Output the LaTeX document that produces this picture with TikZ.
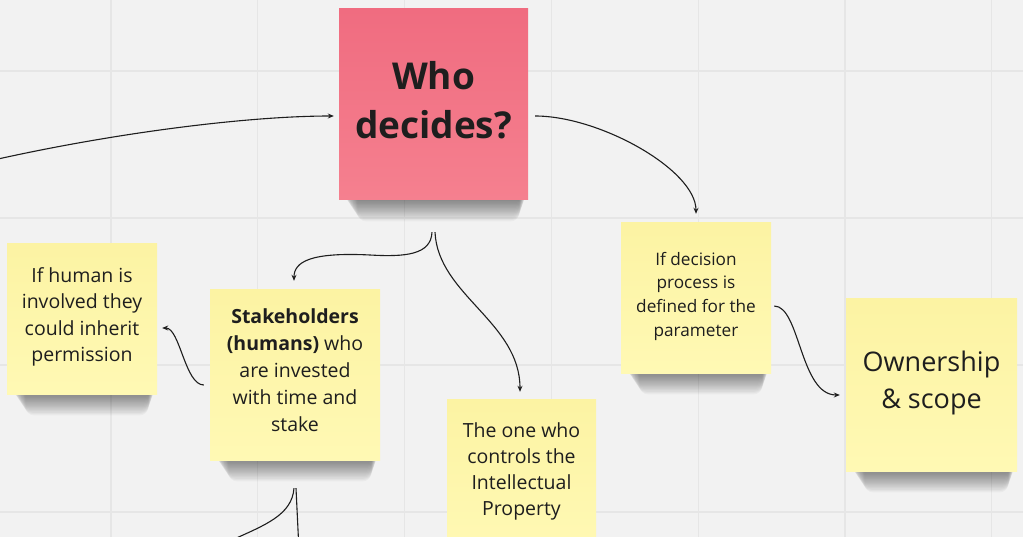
\documentclass[tikz,border=0pt]{standalone}
\usepackage{fontspec}
\setmainfont{Open Sans}
\usetikzlibrary{arrows.meta,calc}
\definecolor{bgc}{HTML}{F2F2F2}
\definecolor{gridc}{HTML}{E6E6E6}
\definecolor{ytop}{HTML}{FCF3A3}
\definecolor{ybot}{HTML}{FFF9B4}
\definecolor{ptop}{HTML}{F06C80}
\definecolor{pbot}{HTML}{F5808F}
\definecolor{ink}{HTML}{1E1E1E}
\pgfdeclarelayer{back}
\pgfsetlayers{back,main}
\newcommand\noteshadow[1]{%
  \foreach \k in {0,...,15}{%
    \fill[black,opacity=0.03,rounded corners=9pt]
      ($(#1.south west)+(5+0.9*\k,-14)$) rectangle ($(#1.south east)+(-2-0.45*\k,1+1.35*\k)$);
  }}
\begin{document}
\begin{tikzpicture}[x=1pt,y=-1pt,
  note/.style={rectangle, inner sep=0pt, align=center, text=ink, top color=ytop, bottom color=ybot},
  pinknote/.style={note, top color=ptop, bottom color=pbot},
  conn/.style={draw=ink, line width=1.1pt, -{Stealth[length=6pt,width=5pt]}},
  plain/.style={draw=ink, line width=1.1pt}]
\useasboundingbox (0,0) rectangle (1023,537);

% notes
\node[pinknote, minimum width=189pt, minimum height=191pt, text depth=10pt,
      font=\fontsize{37}{49}\selectfont\bfseries] (who) at (433.5,104.5) {Who\\decides?};
\node[note, minimum width=150pt, minimum height=150pt, text depth=9pt,
      font=\fontsize{19.5}{26.3}\selectfont] (inherit) at (82,319)
      {If human is\\involved they\\could inherit\\permission};
\node[note, minimum width=170pt, minimum height=170pt, text depth=10pt,
      font=\fontsize{19.5}{27}\selectfont] (stake) at (295,375)
      {\textbf{Stakeholders}\\\textbf{(humans)} who\\are invested\\with time and\\stake};
\node[note, minimum width=149pt, minimum height=150pt, text depth=9pt,
      font=\fontsize{19.5}{26}\selectfont] (ip) at (521.5,474)
      {The one who\\controls the\\Intellectual\\Property};
\node[note, minimum width=150pt, minimum height=150pt, text depth=8pt,
      font=\fontsize{17.2}{23.7}\selectfont] (dec) at (696,298)
      {If decision\\process is\\defined for the\\parameter};
\node[note, minimum width=171pt, minimum height=172pt, text depth=10.5pt,
      font=\fontsize{27}{37}\selectfont] (own) at (931.5,385)
      {Ownership\\\& scope};

% free ends
\coordinate (inL) at (-2,159);
\coordinate (outA) at (232,540);
\coordinate (outB) at (298.5,540);

% connectors
\draw[conn] (inL) .. controls (120,132) and (250,116) .. ($(who.west)+(-5,11.5)$);
\draw[conn] ($(who.east)+(7,11.5)$) .. controls (600,116) and (696,170) .. ($(dec.north)+(0,-9)$);
\draw[conn] ($(who.south)+(-1.5,32)$) .. controls (431,255) and (405,257) .. (370,255)
            .. controls (310,252) and (294,262) .. ($(stake.north)+(-1,-9)$);
\draw[conn] ($(who.south)+(1.5,32)$) .. controls (438,295) and (520,322) .. ($(ip.north)+(-1.5,-7)$);
\draw[conn] ($(stake.west)+(-6,10)$) .. controls (185,385) and (180,328) .. ($(inherit.east)+(5,9)$);
\draw[plain] ($(stake.south)+(-1,28)$) .. controls (292,515) and (265,525) .. (outA);
\draw[plain] ($(stake.south)+(1,28)$) -- (outB);
\draw[conn] ($(dec.east)+(3,8)$) .. controls (800,306) and (800,395) .. ($(own.west)+(-6,10)$);

% background, grid and shadows
\begin{pgfonlayer}{back}
\fill[bgc] (0,0) rectangle (1023,537);
\foreach \x in {111,257.8,404.6,551.4,698.2,845,991.8}
  \draw[gridc,line width=1.3pt] (\x,0) -- (\x,537);
\foreach \y in {71,218,365,512}
  \draw[gridc,line width=1.3pt] (0,\y) -- (1023,\y);
\noteshadow{who}
\noteshadow{inherit}
\noteshadow{stake}
\noteshadow{ip}
\noteshadow{dec}
\noteshadow{own}
\end{pgfonlayer}
\end{tikzpicture}
\end{document}
